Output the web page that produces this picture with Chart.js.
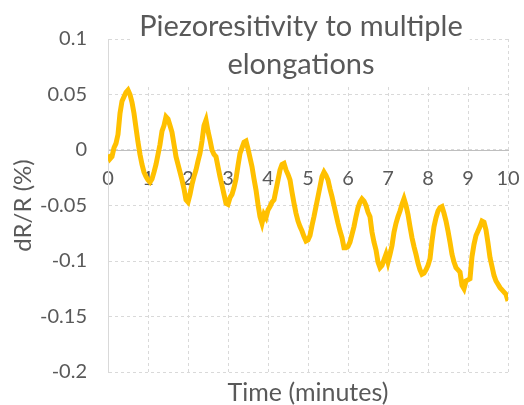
<!DOCTYPE html>
<html>
<head>
<meta charset="utf-8">
<script src="https://cdn.jsdelivr.net/npm/chart.js@4/dist/chart.umd.min.js"></script>
<style>
	html, body { margin: 0; padding: 0; background: #fff; }
</style>
</head>
<body>
<canvas id="piezo_chart" width="524" height="405"></canvas>
<script>
// DATA

const chartTitle = ['Piezoresitivity to multiple', 'elongations'];
const xTitle = 'Time (minutes)';
const yTitle = 'dR/R (%)';

const timeStep = 0.05; // minutes between samples
// dR/R (%), one value every 0.05 min from 0 to 10
const dRR = [
	-0.004, -0.008, -0.006, 0.002, 0.006, 0.014, 0.033, 0.044, 0.048, 0.052, 0.054, 0.050, 0.043, 0.033, 0.020, 0.007, -0.004, -0.013, -0.020, -0.024,
	-0.027, -0.029, -0.026, -0.020, -0.013, -0.004, 0.005, 0.017, 0.022, 0.030, 0.028, 0.022, 0.016, 0.005, -0.006, -0.013, -0.020, -0.027, -0.035, -0.045,
	-0.047, -0.040, -0.031, -0.024, -0.018, -0.010, -0.003, 0.008, 0.022, 0.027, 0.017, 0.009, 0.000, -0.004, -0.006, -0.015, -0.024, -0.032, -0.040, -0.048,
	-0.049, -0.043, -0.040, -0.034, -0.026, -0.014, -0.003, 0.002, 0.007, 0.008, 0.001, -0.007, -0.015, -0.026, -0.036, -0.049, -0.060, -0.066, -0.058, -0.061,
	-0.054, -0.051, -0.047, -0.045, -0.036, -0.027, -0.018, -0.013, -0.012, -0.018, -0.022, -0.027, -0.038, -0.048, -0.057, -0.064, -0.069, -0.073, -0.078, -0.082,
	-0.081, -0.077, -0.068, -0.060, -0.051, -0.042, -0.033, -0.024, -0.020, -0.023, -0.027, -0.035, -0.042, -0.050, -0.058, -0.066, -0.073, -0.079, -0.088, -0.088,
	-0.087, -0.083, -0.076, -0.069, -0.060, -0.052, -0.047, -0.044, -0.046, -0.050, -0.056, -0.060, -0.074, -0.083, -0.090, -0.101, -0.106, -0.104, -0.099, -0.094,
	-0.101, -0.094, -0.086, -0.074, -0.066, -0.060, -0.055, -0.049, -0.044, -0.050, -0.058, -0.069, -0.079, -0.087, -0.094, -0.102, -0.108, -0.112, -0.111, -0.108,
	-0.104, -0.098, -0.082, -0.069, -0.061, -0.055, -0.052, -0.051, -0.057, -0.064, -0.073, -0.083, -0.094, -0.101, -0.106, -0.108, -0.110, -0.122, -0.125, -0.118,
	-0.117, -0.116, -0.096, -0.085, -0.077, -0.073, -0.069, -0.064, -0.065, -0.072, -0.084, -0.097, -0.105, -0.113, -0.118, -0.121, -0.124, -0.126, -0.128, -0.130,
	-0.136
];

const xMin = 0, xMax = 10, xStep = 1;
const yMin = -0.2, yMax = 0.1, yStep = 0.05;

// STYLE

const fontFamily = 'Lato, "Open Sans", sans-serif';
const textGray = '#595959';
const gridGray = '#d9d9d9';
const lineGold = '#FFC000';

//==================================
// EXCEL-LIKE TITLES
//==================================

const excelTitles = {
	id: 'excelTitles',
	beforeDatasetsDraw(chart) {
		const { ctx, chartArea } = chart;
		const cx = (chartArea.left + chartArea.right) / 2;
		const titleX = cx - 7; // Excel puts the title a bit left of the plot centre
		ctx.save();
		ctx.font = '29px ' + fontFamily;
		const w = Math.max(...chartTitle.map(t => ctx.measureText(t).width));
		// title box sits over the plot area, hiding the grid behind it
		ctx.fillStyle = '#fff';
		ctx.fillRect(titleX - w / 2 - 7, 4, w + 14, 82);
		ctx.fillStyle = textGray;
		ctx.textAlign = 'center';
		ctx.textBaseline = 'alphabetic';
		chartTitle.forEach((t, i) => ctx.fillText(t, titleX, 36 + i * 38));
		ctx.font = '25px ' + fontFamily;
		ctx.fillText(xTitle, cx, 401);
		ctx.restore();
	}
};

//==================================
// CHART
//==================================

const points = dRR.map((v, i) => ({ x: +(i * timeStep).toFixed(2), y: v }));

const ctx = document.getElementById('piezo_chart').getContext('2d');

new Chart(ctx, {
	type: 'line',
	data: {
		datasets: [{
			data: points,
			borderColor: lineGold,
			borderWidth: 5,
			pointRadius: 0,
			tension: 0,
			fill: false,
		}],
	},
	options: {
		responsive: false,
		animation: false,
		layout: { padding: { top: 39, bottom: 33, left: 0, right: 16 } },
		plugins: {
			legend: { display: false },
			tooltip: { enabled: false },
		},
		scales: {
			x: {
				type: 'linear',
				position: { y: 0 },
				min: xMin,
				max: xMax,
				ticks: {
					stepSize: xStep,
					color: textGray,
					font: { family: fontFamily, size: 20 },
					padding: 17,
					maxRotation: 0,
				},
				grid: { color: gridGray, drawTicks: false },
				border: { color: '#bfbfbf', width: 1, dash: [3, 3] },
				afterFit(scale) {
					// the "10" label may hang past the plot edge, like in Excel
					scale.paddingLeft = 0;
					scale.paddingRight = 0;
				},
			},
			y: {
				min: yMin,
				max: yMax,
				ticks: {
					stepSize: yStep,
					color: textGray,
					font: { family: fontFamily, size: 20 },
					padding: 21,
					callback: v => +v.toFixed(2),
				},
				grid: { color: gridGray, drawTicks: false },
				border: { color: gridGray, width: 1, dash: [3, 3] },
				title: {
					display: true,
					text: yTitle,
					color: textGray,
					font: { family: fontFamily, size: 24 },
					padding: { top: 9, bottom: 0 },
				},
				afterFit(scale) {
					scale.width = 108;
				},
			},
		},
	},
	plugins: [excelTitles],
});
</script>
</body>
</html>
